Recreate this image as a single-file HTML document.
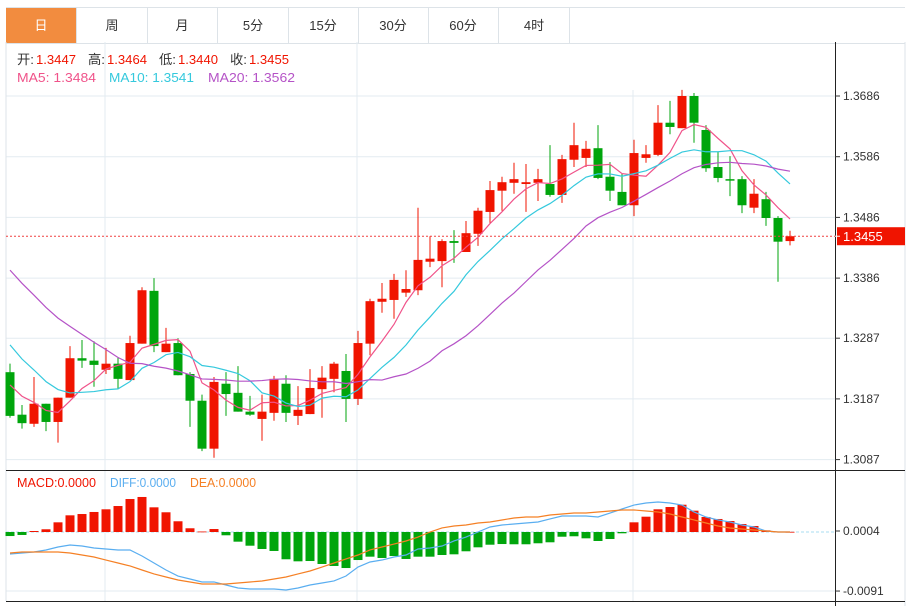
<!DOCTYPE html>
<html><head><meta charset="utf-8">
<style>
body{margin:0;background:#fff;font-family:"Liberation Sans","Noto Sans CJK SC",sans-serif;}
#wrap{position:relative;width:915px;height:606px;overflow:hidden;}
.tabs{position:absolute;left:6px;top:7px;width:899px;height:35px;border-top:1px solid #dde3e8;border-bottom:1px solid #dde3e8;}
.tab{position:absolute;top:0;height:35px;width:70px;border-right:1px solid #dde3e8;text-align:center;line-height:35px;font-size:13px;color:#333;}
.tab.on{background:#f28c3f;color:#fff;}
svg{position:absolute;left:0;top:0;}
</style></head><body>
<div id="wrap">
<div class="tabs">
<div class="tab on" style="left:0">日</div>
<div class="tab" style="left:71px">周</div>
<div class="tab" style="left:141px">月</div>
<div class="tab" style="left:212px">5分</div>
<div class="tab" style="left:282px">15分</div>
<div class="tab" style="left:352px">30分</div>
<div class="tab" style="left:422px">60分</div>
<div class="tab" style="left:493px">4时</div>
</div>
<svg id="c" width="915" height="606"></svg>
</div>
<script>
const opens=[1.3231,1.3161,1.3146,1.3179,1.3149,1.3189,1.3254,1.3250,1.3235,1.3245,1.3218,1.3278,1.3365,1.3264,1.3279,1.3228,1.3184,1.3105,1.3212,1.3197,1.3166,1.3154,1.3164,1.3212,1.3159,1.3162,1.3203,1.3220,1.3233,1.3187,1.3278,1.3347,1.3350,1.3362,1.3366,1.3413,1.3414,1.3447,1.3429,1.3459,1.3495,1.3530,1.3543,1.3541,1.3543,1.3541,1.3523,1.3581,1.3584,1.3600,1.3553,1.3528,1.3506,1.3584,1.3589,1.3642,1.3633,1.3686,1.3630,1.3569,1.3549,1.3549,1.3502,1.3516,1.3485,1.3447];
const closes=[1.3159,1.3147,1.3179,1.3149,1.3189,1.3254,1.3250,1.3243,1.3245,1.3220,1.3279,1.3366,1.3274,1.3278,1.3226,1.3184,1.3105,1.3215,1.3195,1.3166,1.3161,1.3166,1.3220,1.3164,1.3169,1.3205,1.3222,1.3245,1.3187,1.3279,1.3348,1.3352,1.3383,1.3368,1.3416,1.3418,1.3447,1.3444,1.3460,1.3497,1.3531,1.3544,1.3549,1.3544,1.3549,1.3523,1.3582,1.3605,1.3599,1.3551,1.3530,1.3506,1.3592,1.3590,1.3642,1.3635,1.3686,1.3642,1.3567,1.3551,1.3548,1.3506,1.3525,1.3485,1.3446,1.3455];
const highs=[1.3245,1.3177,1.3223,1.3179,1.3189,1.3274,1.3284,1.3282,1.3271,1.3256,1.3291,1.3371,1.3386,1.3304,1.3287,1.3231,1.3194,1.3223,1.3231,1.3241,1.3192,1.3194,1.3225,1.3226,1.3208,1.3236,1.3241,1.3248,1.3261,1.3299,1.3352,1.3378,1.3393,1.3399,1.3502,1.3455,1.3450,1.3465,1.3480,1.3502,1.3546,1.3553,1.3576,1.3574,1.3566,1.3605,1.3589,1.3642,1.3612,1.3638,1.3577,1.3558,1.3614,1.3605,1.3671,1.3678,1.3696,1.3691,1.3638,1.3594,1.3587,1.3554,1.3549,1.3528,1.3488,1.3464];
const lows=[1.3156,1.3138,1.3141,1.3134,1.3115,1.3189,1.3238,1.3207,1.3228,1.3203,1.3218,1.3278,1.3264,1.3264,1.3226,1.3141,1.3101,1.3090,1.3159,1.3166,1.3159,1.3118,1.3151,1.3149,1.3144,1.3162,1.3156,1.3198,1.3149,1.3177,1.3259,1.3329,1.3319,1.3355,1.3358,1.3404,1.3371,1.3411,1.3429,1.3439,1.3477,1.3497,1.3525,1.3495,1.3513,1.3520,1.3510,1.3569,1.3569,1.3549,1.3513,1.3506,1.3488,1.3576,1.3587,1.3623,1.3633,1.3609,1.3561,1.3544,1.3521,1.3493,1.3493,1.3472,1.3380,1.3440];
const priorCloses=[1.3580,1.3570,1.3555,1.3540,1.3525,1.3515,1.3500,1.3490,1.3480,1.3467,1.3380,1.3360,1.3340,1.3320,1.3310,1.3240,1.3230,1.3215,1.3206];
const priceTicks=[1.3686,1.3586,1.3486,1.3386,1.3287,1.3187,1.3087];
const macdHist=[-6.5,-4.8,1.6,4.4,15.6,26.9,29,32.3,36.6,41.9,53.2,56.5,39.8,31.8,17.3,6,0.8,4.8,-5.3,-15.6,-22.1,-27.4,-30.6,-44,-47.3,-46.8,-51.6,-54.8,-58.1,-45.2,-39.8,-41.9,-38.7,-43.5,-39.8,-39.8,-37.1,-36,-31.1,-24.7,-20.5,-19.4,-19.8,-19.8,-18.2,-16.6,-7.6,-6.9,-10.2,-14.5,-11.3,-2.1,15.6,24.7,36.6,40.3,44,34.4,24.2,21,17.7,12.9,9.7,2.7,0.5,0.3];
const diffVals=[-35.5,-33.9,-32.3,-29,-24.2,-21,-22.6,-25.8,-27.4,-29,-29,-38.7,-50,-61.3,-71,-75.8,-80.6,-80.6,-85.5,-90.3,-91.9,-91.9,-91.9,-93.5,-90.3,-85.5,-82.3,-79,-71,-56.5,-48.4,-45.2,-40.3,-37.1,-27.4,-25.8,-22.6,-14.5,-8.1,0,8.1,11.3,12.9,14.5,16.1,21,25.8,25.8,25.8,24.2,30.6,37.1,43.5,46.8,48.4,46.8,43.5,32.3,24.2,19.4,16.1,11.3,8.1,1.6,0,0];
const deaVals=[-33.9,-32.3,-32.3,-32.3,-32.3,-33.9,-37.1,-40.3,-45.2,-50,-54.8,-61.3,-67.7,-72.6,-77.4,-80.6,-83.9,-83.9,-83.9,-82.3,-80.6,-79,-75.8,-72.6,-67.7,-62.9,-56.5,-50,-43.5,-37.1,-29,-24.2,-19.4,-14.5,-8.1,0,6.5,9.7,11.3,14.5,16.1,19.4,22.6,24.2,24.2,27.4,29,30.6,30.6,32.3,33.9,35.5,35.5,33.9,32.3,29,24.2,19.4,14.5,9.7,6.5,4.8,3.2,1.6,0,0];
const macdTicks=[4,-91];
const infoOHLC={o:"1.3447",h:"1.3464",l:"1.3440",c:"1.3455"};

const NS="http://www.w3.org/2000/svg";
const svg=document.getElementById('c');
function mk(tag,attrs,parent){const e=document.createElementNS(NS,tag);for(const k in attrs)e.setAttribute(k,attrs[k]);(parent||svg).appendChild(e);return e;}
const xOf=i=>10+12*i;
const yP=p=>96+(1.3686-p)*6070;
const MZ=532;
const yM=v=>MZ-v*0.62;
const RED="#f01400",GREEN="#00a50c";

let g=mk('g',{});
[105,357,633].forEach(x=>{mk('line',{x1:x,y1:90,x2:x,y2:601,stroke:'#e3ebf1'},g);});
priceTicks.forEach(p=>{mk('line',{x1:6,y1:yP(p),x2:835,y2:yP(p),stroke:'#e3ebf1'},g);});
mk('line',{x1:6,y1:591,x2:835,y2:591,stroke:'#e3ebf1'},g);
mk('line',{x1:6,y1:42,x2:6,y2:601,stroke:'#dde3e8'});
mk('line',{x1:905,y1:42,x2:905,y2:606,stroke:'#dde3e8'});
mk('line',{x1:105,y1:42,x2:105,y2:90,stroke:'#e3ebf1'});
mk('line',{x1:357,y1:42,x2:357,y2:90,stroke:'#e3ebf1'});
mk('line',{x1:835.5,y1:42,x2:835.5,y2:606,stroke:'#222'});
mk('line',{x1:6,y1:470.5,x2:905,y2:470.5,stroke:'#222'});
mk('line',{x1:6,y1:601.5,x2:905,y2:601.5,stroke:'#222'});

priceTicks.forEach(p=>{
 mk('line',{x1:835,y1:yP(p),x2:840,y2:yP(p),stroke:'#333'});
 const tx=mk('text',{x:843,y:yP(p)+4,'font-size':12,fill:'#333'});
 tx.textContent=p.toFixed(4);
 
 
});

const cg=mk('g',{});


opens.forEach((o,i)=>{
 const c=closes[i],up=c>=o,col=up?RED:GREEN,x=xOf(i);
 const cd=mk('g',{},cg);
 
 
 mk('line',{x1:x,y1:yP(highs[i]),x2:x,y2:yP(lows[i]),stroke:col,'stroke-width':1},cd);
 const top=yP(Math.max(o,c)),bot=yP(Math.min(o,c));
 mk('rect',{x:x-4.5,y:top,width:9,height:Math.max(1.5,bot-top),fill:col},cd);
});

const all=priorCloses.concat(closes);
function ma(n){return closes.map((_,i)=>{const k=i+priorCloses.length;let s=0;for(let j=k-n+1;j<=k;j++)s+=all[j];return s/n;});}
[[5,'#f0538a','ma5-line'],[10,'#35c9dd','ma10-line'],[20,'#b553c7','ma20-line']].forEach(([n,col,name])=>{
 const m=ma(n);
 const pl=mk('polyline',{points:m.map((v,i)=>xOf(i)+','+yP(v)).join(' '),fill:'none',stroke:col,'stroke-width':1.2});
 
 
});

const last=closes[closes.length-1];
const cl=mk('line',{x1:6,y1:yP(last),x2:835,y2:yP(last),stroke:'#f04040','stroke-dasharray':'2,2'});


const lb=mk('rect',{x:837,y:yP(last)-9,width:68,height:18,fill:RED});


mk('line',{x1:835,y1:yP(last),x2:840,y2:yP(last),stroke:'#fff'});
const lt=mk('text',{x:843,y:yP(last)+5,'font-size':13,fill:'#fff'});lt.textContent=last.toFixed(4);

mk('line',{x1:6,y1:MZ,x2:835,y2:MZ,stroke:'#a8dcf0','stroke-dasharray':'3,2'});
const mg=mk('g',{});


macdHist.forEach((v,i)=>{
 const y=yM(v);
 const r=mk('rect',{x:xOf(i)-4.5,y:Math.min(y,MZ),width:9,height:Math.max(0.8,Math.abs(MZ-y)),fill:v>=0?RED:GREEN},mg);
 
 
});
[[diffVals,'#5aaef0','diff-line'],[deaVals,'#f58025','dea-line']].forEach(([arr,col,name])=>{
 const pl=mk('polyline',{points:arr.map((v,i)=>xOf(i)+','+yM(v)).join(' '),fill:'none',stroke:col,'stroke-width':1.2});
 
 
});
macdTicks.forEach(v=>{
 const y=MZ-1-(v-4)*0.632;
 mk('line',{x1:835,y1:y,x2:840,y2:y,stroke:'#333'});
 const tx=mk('text',{x:843,y:y+4,'font-size':12,fill:'#333'});
 tx.textContent=(v/10000).toFixed(4);
 
 
});

function txt(x,y,s,col,name,w){const t=mk('text',{x:x,y:y,'font-size':13,fill:col});if(w){t.setAttribute('textLength',w);t.setAttribute('lengthAdjust','spacingAndGlyphs');}t.textContent=s;return t;}
txt(17,64,'开:','#333','open-label',17);txt(36,64,infoOHLC.o,RED,'open-value',40);
txt(88,64,'高:','#333','high-label',17);txt(107,64,infoOHLC.h,RED,'high-value',40);
txt(159,64,'低:','#333','low-label',17);txt(178,64,infoOHLC.l,RED,'low-value',40);
txt(230,64,'收:','#333','close-label',17);txt(249,64,infoOHLC.c,RED,'close-value',40);
txt(17,82,'MA5: 1.3484','#f0538a','ma5-legend',79);
txt(109,82,'MA10: 1.3541','#35c9dd','ma10-legend',85);
txt(208,82,'MA20: 1.3562','#b553c7','ma20-legend',87);
txt(17,487,'MACD:0.0000',RED,'macd-legend',79);
txt(110,487,'DIFF:0.0000','#5aaef0','diff-legend',66);
txt(190,487,'DEA:0.0000','#f58025','dea-legend',66);
</script>
</body></html>
